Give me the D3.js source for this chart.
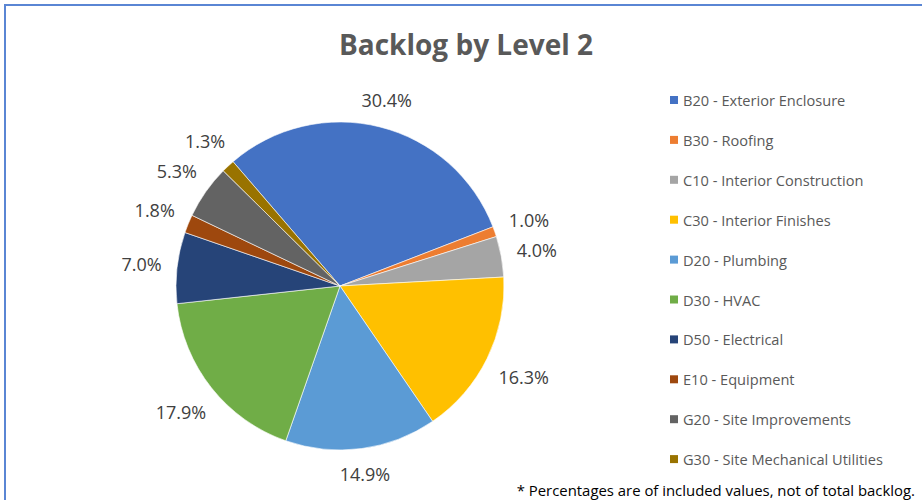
<!DOCTYPE html>
<html>
<head>
<meta charset="utf-8">
<script src="https://cdn.jsdelivr.net/npm/d3@7"></script>
<style>
  html, body { margin: 0; padding: 0; background: #fff; }
  svg { display: block; }
</style>
</head>
<body>
<div id="chart"></div>
<script>
// Chart data (percent of included backlog)
const categories = [
  'B20 - Exterior Enclosure',
  'B30 - Roofing',
  'C10 - Interior Construction',
  'C30 - Interior Finishes',
  'D20 - Plumbing',
  'D30 - HVAC',
  'D50 - Electrical',
  'E10 - Equipment',
  'G20 - Site Improvements',
  'G30 - Site Mechanical Utilities'
];
const values = [30.4, 1.0, 4.0, 16.3, 14.9, 17.9, 7.0, 1.8, 5.3, 1.3];
const colors = ['#4472C4', '#ED7D31', '#A5A5A5', '#FFC000', '#5B9BD5',
                '#70AD47', '#264478', '#9E480E', '#636363', '#997300'];
const title = 'Backlog by Level 2';
const footnote = '* Percentages are of included values, not of total backlog.';

(function main(){
  const width = 922, height = 500;
  const cx = 340, cy = 286, r = 164;
  const firstSliceAngle = -40.7 * Math.PI / 180; // rotation of first slice

  const svg = d3.select('#chart').append('svg')
    .attr('width', width).attr('height', height);

  // outer chart border
  svg.append('rect')
    .attr('x', 5).attr('y', 5)
    .attr('width', width + 10).attr('height', height + 10)
    .attr('fill', '#fff')
    .attr('stroke', '#5a86d4').attr('stroke-width', 2);

  svg.append('text')
    .attr('x', 466).attr('y', 55)
    .attr('text-anchor', 'middle')
    .style('font-family', '"Open Sans", sans-serif')
    .style('font-weight', 700)
    .style('font-size', '28px')
    .style('fill', '#595959')
    .text(title);

  const rows = categories.map((c, i) => ({ name: c, value: values[i], color: colors[i] }));

  const pie = d3.pie().sort(null).value(d => d.value)
    .startAngle(firstSliceAngle).endAngle(firstSliceAngle + 2 * Math.PI);
  const arc = d3.arc().innerRadius(0).outerRadius(r);
  const arcs = pie(rows);

  const plot = svg.append('g').attr('transform', `translate(${cx},${cy})`);
  plot.selectAll('path.slice')
    .data(arcs)
    .enter().append('path')
    .attr('class', 'slice')
    .attr('d', arc)
    .attr('fill', d => d.data.color)
    .attr('stroke', '#fff')
    .attr('stroke-width', 0.6);

  // data labels outside the pie, box edge kept a fixed gap from the rim
  const gap = 15;
  const labels = plot.selectAll('text.lbl')
    .data(arcs)
    .enter().append('text')
    .attr('class', 'lbl')
    .attr('text-anchor', 'middle')
    .attr('dominant-baseline', 'central')
    .style('font-family', '"Open Sans", sans-serif')
    .style('font-size', '18px')
    .style('fill', '#404040')
    .text(d => d3.format('.1f')(d.data.value) + '%');

  labels.each(function(d){
    const a = (d.startAngle + d.endAngle) / 2;
    const hw = this.getComputedTextLength() / 2;
    const hh = 7;
    const s = Math.sin(a), c = Math.cos(a);
    const rr = r + gap + hw * Math.abs(s) + hh * Math.abs(c);
    d3.select(this).attr('x', rr * s).attr('y', -rr * c);
  });

  // legend
  const legend = svg.append('g').attr('transform', 'translate(670,100)');
  const item = legend.selectAll('g.item')
    .data(rows)
    .enter().append('g')
    .attr('class', 'item')
    .attr('transform', (d, i) => `translate(0,${i * 39.9})`);
  item.append('rect')
    .attr('x', 0).attr('y', -4)
    .attr('width', 8).attr('height', 8)
    .attr('fill', d => d.color);
  item.append('text')
    .attr('x', 13).attr('y', 0)
    .attr('dominant-baseline', 'central')
    .style('font-family', '"Open Sans", sans-serif')
    .style('font-size', '14.6px')
    .style('fill', '#595959')
    .text(d => d.name);

  svg.append('text')
    .attr('x', 915).attr('y', 490)
    .attr('text-anchor', 'end')
    .attr('dominant-baseline', 'central')
    .style('font-family', '"Open Sans", sans-serif')
    .style('font-size', '14.9px')
    .style('fill', '#000')
    .text(footnote);
})();
</script>
</body>
</html>
